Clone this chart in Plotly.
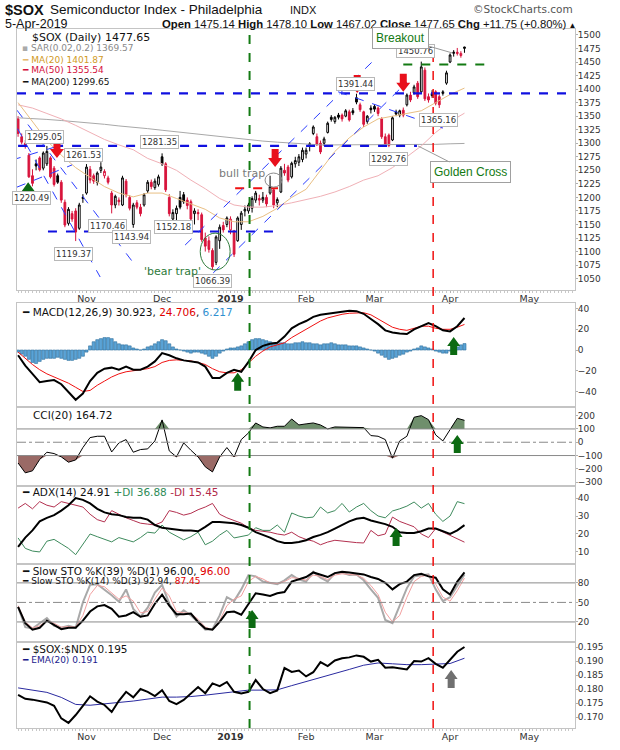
import plotly.graph_objects as go

# ---- daily candles, trading-day index 0 (5-Oct-2018) .. 124 (5-Apr-2019) ----
opens = [1345, 1312, 1300, 1278, 1240, 1262, 1273, 1254, 1262, 1273,
         1254, 1240, 1228, 1191, 1152, 1170, 1175, 1143, 1198, 1208,
         1252, 1240, 1228, 1250, 1240, 1236, 1208, 1186, 1195, 1186,
         1230, 1200, 1150, 1190, 1182, 1186, 1212, 1228, 1218, 1224,
         1275, 1262, 1200, 1160, 1170, 1200, 1205, 1195, 1192, 1170,
         1172, 1168, 1125, 1120, 1102, 1080, 1120, 1148, 1150, 1140,
         1138, 1120, 1150, 1175, 1175, 1180, 1195, 1198, 1195, 1200,
         1208, 1214, 1190, 1210, 1250, 1256, 1238, 1262, 1265, 1270,
         1280, 1299, 1318, 1312, 1300, 1300, 1320, 1348, 1340, 1352,
         1352, 1350, 1358, 1360, 1384, 1371, 1358, 1340, 1365, 1368,
         1365, 1345, 1312, 1315, 1306, 1358, 1352, 1361, 1371, 1389,
         1393, 1411, 1395, 1435, 1386, 1392, 1395, 1386, 1392, 1411,
         1450, 1466, 1468, 1462, 1475.14]
highs = [1350, 1318, 1306, 1282, 1252, 1270, 1276, 1285, 1295.05, 1276,
         1258, 1244, 1232, 1196, 1182, 1175, 1180, 1190, 1206, 1261.53,
         1258, 1244, 1248, 1265, 1252, 1240, 1212, 1205, 1200, 1240,
         1234, 1204, 1190, 1195, 1188, 1208, 1232, 1233, 1235, 1242,
         1281.35, 1265, 1206, 1178, 1185, 1212, 1210, 1200, 1196, 1180,
         1178, 1172, 1135, 1128, 1106, 1130, 1150, 1155, 1165, 1165,
         1140, 1165, 1175, 1185, 1190, 1202, 1212, 1205, 1210, 1205,
         1240, 1218, 1200, 1258, 1262, 1260, 1266, 1275, 1280, 1292,
         1292, 1302, 1333, 1318, 1305, 1312, 1340, 1352, 1350, 1356,
         1355, 1363, 1362, 1365, 1391.44, 1375, 1360, 1352, 1370, 1372,
         1368, 1348, 1318, 1318, 1350, 1362, 1362, 1366, 1392, 1395,
         1408, 1415, 1450.76, 1440, 1392, 1398, 1398, 1390, 1398, 1434,
         1466, 1472, 1476, 1470, 1478.10]
lows = [1312, 1298, 1290, 1236, 1220.49, 1250, 1248, 1250, 1258, 1235,
        1220, 1225, 1190, 1145, 1148, 1155, 1119.37, 1140, 1190, 1205,
        1226, 1225, 1222, 1245, 1235, 1224, 1170.46, 1180, 1185, 1184,
        1200, 1176, 1143.94, 1178, 1165, 1183, 1208, 1215, 1214, 1220,
        1258, 1210, 1165, 1152.18, 1158, 1178, 1188, 1178, 1155, 1150,
        1158, 1118, 1100, 1098, 1066.39, 1075, 1105, 1135, 1145, 1132,
        1090, 1118, 1140, 1165, 1170, 1172, 1190, 1185, 1190, 1182,
        1205, 1180, 1182, 1208, 1240, 1228, 1235, 1255, 1258, 1265,
        1272, 1285, 1315, 1295, 1280, 1295, 1318, 1340, 1336, 1344,
        1340, 1348, 1340, 1352, 1372, 1358, 1330, 1336, 1355, 1358,
        1350, 1308, 1295, 1292.76, 1304, 1350, 1348, 1348, 1368, 1376,
        1390, 1382, 1392, 1378, 1375, 1384, 1370, 1365.16, 1388, 1408,
        1448, 1460, 1462, 1458, 1467.02]
closes = [1318, 1302, 1295, 1238, 1226, 1258, 1251, 1282, 1285, 1238,
          1224, 1228, 1195, 1149, 1178, 1160, 1136, 1186, 1200, 1256,
          1232, 1230, 1245, 1256, 1248, 1228, 1186, 1202, 1192, 1236,
          1205, 1180, 1186, 1182, 1170, 1205, 1228, 1220, 1230, 1238,
          1262, 1214, 1170, 1172, 1180, 1182, 1192, 1185, 1160, 1175,
          1170, 1122, 1110, 1104, 1072, 1127, 1145, 1140, 1162, 1160,
          1095, 1162, 1171, 1178, 1186, 1198, 1208, 1195, 1200, 1188,
          1220, 1186, 1196, 1254, 1245, 1232, 1263, 1268, 1275, 1287,
          1287, 1296, 1330, 1298, 1284, 1308, 1337, 1344, 1348, 1348,
          1345, 1360, 1343, 1356, 1376, 1362, 1335, 1350, 1362, 1363,
          1355, 1312, 1298, 1296, 1347, 1354, 1360, 1352, 1389, 1380,
          1404, 1386, 1441, 1382, 1380, 1388, 1374, 1371, 1395, 1430,
          1463, 1468, 1466, 1465.90, 1477.65]

# moving averages, read every 4th session
ma20 = [1375, 1340, 1305, 1278, 1255, 1237, 1220, 1208, 1201, 1208, 1208, 1198,
        1188, 1178, 1162, 1155, 1155, 1165, 1180, 1200, 1215, 1250, 1285, 1310,
        1330, 1345, 1350, 1355, 1360, 1375, 1390, 1401.87]
ma50 = [1371, 1365, 1355, 1345, 1333, 1320, 1307, 1297, 1288, 1272, 1262, 1250,
        1232, 1216, 1198, 1186, 1182, 1182, 1185, 1190, 1196, 1202, 1210, 1220,
        1232, 1240, 1255, 1275, 1295, 1320, 1340, 1355.54]
ma200 = [1347, 1346, 1344, 1342, 1340, 1338, 1335, 1332, 1330, 1327, 1324, 1321,
         1318, 1315, 1312, 1309, 1306, 1304, 1302, 1300, 1298, 1297, 1297, 1297,
         1297, 1297, 1297, 1297, 1298, 1298, 1299, 1299.65]

# indicators, read every 2nd session
macd = [-5, -15, -23, -31, -30, -29, -33, -40, -48, -42, -30, -22, -18, -17, -19, -16,
        -19, -19, -16, -11, -3, -5, -8, -10, -11, -12, -16, -27, -27, -22, -19, -21,
        -11.5, 0, 4, 6, 7, 13, 21, 25, 28, 32, 34, 35, 36, 37, 38, 37.5,
        35, 30, 25, 19, 17, 16, 15.5, 20, 23, 26, 23, 19, 18, 23, 30.92]
signal = [-2, -8, -14, -19, -23, -26, -29, -32, -36, -40, -39, -34, -30, -26, -23, -21,
          -20, -19, -18, -16, -12, -10, -9.5, -10, -10.5, -12, -14, -18, -21, -22, -22, -19,
          -12, -6, -1, 3, 5, 7, 12, 16, 20, 24, 28, 31, 33, 34.5, 35.5, 36,
          36, 34, 30, 26, 22, 20, 19, 21, 23, 23, 21, 20, 20, 22, 24.71]
cci = [-156, -230, -215, -130, -75, -85, -110, -150, -133, -40, 35, 45, 45, -73, -5, 20,
       -75, -55, -50, 10, 168, -65, -110, -5, -60, -110, -185, -223, -110, -40, -110, 20,
       70, 145, 115, 108, 120, 120, 175, 130, 138, 145, 130, 100, 115, 115, 112, 115,
       110, 50, 45, 20, -120, 10, 45, 188, 200, 170, 55, 10, 100, 180, 164.72]
adx = [12.8, 18, 22, 27, 29, 30.5, 33, 36, 40, 39, 37, 34, 32, 31, 30.5, 29.5,
       29, 29, 28, 25, 23.5, 23, 22.5, 22, 22, 21.5, 24, 26.7, 26.7, 26.5, 26, 25,
       23.5, 21, 19.5, 18, 16, 15, 15, 15.5, 16.5, 18.3, 19.5, 21, 23, 25, 27, 28.5,
       29, 27.5, 26.5, 25.5, 24, 21, 20.5, 20.5, 21.5, 23, 23, 21.5, 20, 22, 24.91]
plus_di = [17.8, 12, 10.5, 10, 16, 17, 14.5, 12, 8.5, 14, 20, 18.5, 17, 15.6, 18, 17,
           15.6, 18, 21, 20.5, 25, 21, 19, 16.7, 18.5, 21, 14, 16, 19.4, 22, 17.8, 18.5,
           19.4, 23.5, 22, 22, 25, 21, 31.7, 30, 29, 29.4, 35, 31.7, 33, 37, 32.2, 35,
           37, 33, 30, 29, 32.8, 34, 35.5, 37.8, 34.4, 37, 31, 27, 30, 38, 36.88]
minus_di = [34.4, 37, 34, 38, 36, 35, 38, 37, 36, 35, 31, 28, 26.7, 33, 31, 29,
            27.5, 26, 25.5, 25, 26.7, 33, 32, 30.5, 31.5, 33.5, 35, 37, 31, 29, 27.5, 26,
            23.5, 22, 21.5, 21, 20, 19.4, 21, 18.5, 17, 16, 14, 15.5, 16.5, 16, 15.5, 15.2,
            15, 22, 19, 20, 29.4, 27, 25.5, 24, 20, 18, 23, 21, 19, 17, 15.45]
sto_k39 = [43, 18, 8, 11, 22, 15, 9, 11, 11, 22, 36, 44, 46, 40, 28, 30,
           35, 28, 30, 48, 62, 45, 32, 32, 33, 20, 10, 8, 20, 35, 36, 31,
           48, 64, 62, 60, 64, 66, 82, 86, 89, 96, 92, 89, 95, 97, 96, 95,
           93, 89, 86, 80, 70, 78, 82, 92, 94, 90, 88, 70, 62, 82, 96]
sto_k14 = [43, 12, 10, 18, 26, 14, 11, 14, 11, 50, 77, 78, 70, 61, 51, 70,
           40, 28, 42, 65, 77, 48, 28, 38, 30, 20, 8, 9, 30, 58, 52, 70,
           92, 90, 82, 80, 78, 84, 92, 85, 82, 97, 88, 82, 95, 96, 92, 93,
           84, 70, 57, 23, 18, 45, 72, 90, 92, 93, 70, 52, 58, 76, 92.94]
sto_d3 = [45, 20, 11, 14, 22, 18, 12, 13, 12, 30, 62, 76, 74, 65, 55, 60,
          52, 34, 36, 55, 72, 60, 36, 34, 33, 24, 12, 8, 22, 45, 55, 60,
          82, 90, 86, 80, 79, 82, 88, 87, 84, 92, 90, 85, 92, 94, 93, 92,
          87, 76, 62, 35, 20, 30, 58, 82, 90, 92, 78, 58, 52, 68, 87.45]
ratio = [0.1779, 0.1765, 0.1762, 0.1758, 0.1752, 0.1740, 0.1695, 0.1679, 0.1707, 0.1740,
         0.1774, 0.1755, 0.1743, 0.1718, 0.1758, 0.1790, 0.1770, 0.1800, 0.1790, 0.1775,
         0.1796, 0.1757, 0.1746, 0.1761, 0.1785, 0.1807, 0.1785, 0.1820, 0.1810, 0.1825,
         0.1790, 0.1784, 0.1790, 0.1832, 0.1800, 0.1785, 0.1795, 0.1875, 0.1861, 0.1866,
         0.1845, 0.1860, 0.1896, 0.1882, 0.1902, 0.1910, 0.1913, 0.1920, 0.1915, 0.1898,
         0.1904, 0.1876, 0.1878, 0.1875, 0.1870, 0.1900, 0.1898, 0.1910, 0.1890, 0.1876,
         0.1904, 0.1933, 0.1950]
ratio_ema = [0.1804, 0.1795, 0.1788, 0.1770, 0.1745, 0.1742, 0.1746, 0.1752, 0.1757, 0.1765,
             0.1771, 0.1771, 0.1773, 0.1778, 0.1784, 0.1790, 0.1796, 0.1796, 0.1797, 0.1812,
             0.1826, 0.1840, 0.1855, 0.1870, 0.1885, 0.1893, 0.1890, 0.1887, 0.1887, 0.1889,
             0.1891, 0.1910]
# MACD histogram, every session
hist = [-2, -4, -6, -9, -12, -13, -11, -9, -8, -8,
        -8, -7, -8, -9, -10, -10, -9, -8, -6, -2,
        4, 8, 10, 11, 12, 12, 11, 8, 6, 5,
        5, 4, 2, 1, 0, 1, 3, 4, 6, 8,
        10, 9, 6, 3, 1, 0, -1, -2, -3, -2,
        -2, -3, -4, -6, -8, -6, -3, -1, 1, 2,
        2, 3, 4, 6, 8, 10, 11, 11, 10, 9,
        8, 7, 6, 7, 7, 6, 6, 7, 7, 8,
        7, 7, 6, 6, 5, 6, 6, 7, 6, 5,
        5, 5, 4, 4, 4, 3, 2, 1, 0, -1,
        -3, -5, -7, -9, -8, -7, -5, -4, -2, -1,
        1, 2, 4, 3, 2, 1, -1, -2, -3, -3,
        -1, 1, 3, 5, 6.217]

month_pos = [19, 40, 59, 80, 99, 120, 142]
month_txt = ["Nov", "Dec", "<b>2019</b>", "Feb", "Mar", "Apr", "May"]

n = len(closes)
days = list(range(n))
days2 = list(range(0, n, 2))
days4 = list(range(0, n, 4))

RED = "#d8143c"
X_RANGE = [-0.3, 154.7]
BORDER = "#c4c4c4"

fig = go.Figure()

# ---- price panel ----
fig.add_trace(go.Scatter(x=days4, y=ma200, mode="lines", line=dict(color="#a8a8a8", width=1)))
fig.add_trace(go.Scatter(x=days4, y=ma50, mode="lines", line=dict(color="#f0b0b6", width=1)))
fig.add_trace(go.Scatter(x=days4, y=ma20, mode="lines", line=dict(color="#e9bf84", width=1)))

prev = [closes[0] + 1] + closes[:-1]
up = [i for i in days if closes[i] >= prev[i]]
dn = [i for i in days if closes[i] < prev[i]]
for sel, col in ((up, "black"), (dn, RED)):
    fig.add_trace(go.Candlestick(
        x=sel, open=[opens[i] for i in sel], high=[highs[i] for i in sel],
        low=[lows[i] for i in sel], close=[closes[i] for i in sel],
        increasing=dict(line=dict(color=col, width=1), fillcolor="white"),
        decreasing=dict(line=dict(color=col, width=1), fillcolor=col),
        whiskerwidth=0, hoverinfo="skip"))

# ---- MACD ----
fig.add_trace(go.Bar(x=days, y=hist, width=0.85, xaxis="x2", yaxis="y2",
                     marker=dict(color="#5aa3d6", line=dict(color="#2d6e9c", width=0.6))))
fig.add_trace(go.Scatter(x=days2, y=signal, mode="lines", xaxis="x2", yaxis="y2",
                         line=dict(color="#f01010", width=1)))
fig.add_trace(go.Scatter(x=days2, y=macd, mode="lines", xaxis="x2", yaxis="y2",
                         line=dict(color="black", width=2)))

# ---- CCI ----
cci_hi = [max(v, 100) for v in cci]
cci_lo = [min(v, -100) for v in cci]
fig.add_trace(go.Scatter(x=days2, y=[100] * len(days2), mode="lines", xaxis="x3", yaxis="y3",
                         line=dict(width=0)))
fig.add_trace(go.Scatter(x=days2, y=cci_hi, mode="lines", xaxis="x3", yaxis="y3", fill="tonexty",
                         fillcolor="#6f8f6c", line=dict(width=0)))
fig.add_trace(go.Scatter(x=days2, y=[-100] * len(days2), mode="lines", xaxis="x3", yaxis="y3",
                         line=dict(width=0)))
fig.add_trace(go.Scatter(x=days2, y=cci_lo, mode="lines", xaxis="x3", yaxis="y3", fill="tonexty",
                         fillcolor="#9a6a66", line=dict(width=0)))
fig.add_trace(go.Scatter(x=days2, y=cci, mode="lines", xaxis="x3", yaxis="y3",
                         line=dict(color="black", width=1)))

# ---- ADX ----
fig.add_trace(go.Scatter(x=days2, y=plus_di, mode="lines", xaxis="x4", yaxis="y4",
                         line=dict(color="#3d8a5c", width=1)))
fig.add_trace(go.Scatter(x=days2, y=minus_di, mode="lines", xaxis="x4", yaxis="y4",
                         line=dict(color="#b3304f", width=1)))
fig.add_trace(go.Scatter(x=days2, y=adx, mode="lines", xaxis="x4", yaxis="y4",
                         line=dict(color="black", width=2)))

# ---- Slow stochastics ----
fig.add_trace(go.Scatter(x=days2, y=sto_k14, mode="lines", xaxis="x5", yaxis="y5",
                         line=dict(color="#a9a9a9", width=2)))
fig.add_trace(go.Scatter(x=days2, y=sto_d3, mode="lines", xaxis="x5", yaxis="y5",
                         line=dict(color="#f2a0a0", width=1)))
fig.add_trace(go.Scatter(x=days2, y=sto_k39, mode="lines", xaxis="x5", yaxis="y5",
                         line=dict(color="black", width=2)))

# ---- $SOX:$NDX ----
fig.add_trace(go.Scatter(x=days4, y=ratio_ema, mode="lines", xaxis="x6", yaxis="y6",
                         line=dict(color="#2a2aa0", width=1)))
fig.add_trace(go.Scatter(x=days2, y=ratio, mode="lines", xaxis="x6", yaxis="y6",
                         line=dict(color="black", width=2)))


def pyy(py):
    return 1 - py / 750.0


def pxx(px):
    return (px - 17) / 558.0


panels = {
    "": (29, 290, [1029, 1511], list(range(1050, 1501, 25)), None),
    "2": (303, 407, [-55, 45.4], [-40, -20, 0, 20, 40], None),
    "3": (407, 486, [-329, 265], [-300, -200, -100, 0, 100, 200], None),
    "4": (486, 564, [3.3, 46.7], [10, 20, 30, 40], None),
    "5": (564, 642, [-10.8, 109], [20, 50, 80], None),
    "6": (642, 728, [0.16607, 0.19679], [0.170, 0.175, 0.180, 0.185, 0.190, 0.195],
          ["0.170", "0.175", "0.180", "0.185", "0.190", "0.195"]),
}
lay = {}
for k, (top, bot, yr, tv, tt) in panels.items():
    show_x = k in ("", "6")
    xa = dict(domain=[0, 1], range=X_RANGE, anchor="y" + k, showgrid=False, zeroline=False,
              showline=True, mirror=True, linecolor=BORDER, linewidth=1,
              tickmode="array", tickvals=month_pos, ticktext=month_txt,
              showticklabels=show_x, ticks="outside" if show_x else "", ticklen=2,
              ticklabelstandoff=-2, tickcolor="#b0b0b0", tickfont=dict(size=9.5, color="#333"))
    if show_x:
        xa["minor"] = dict(tickmode="linear", tick0=0, dtick=1, ticks="outside",
                           ticklen=2, tickcolor="#c8c8c8")
    if k:
        xa["matches"] = "x"
    ya = dict(domain=[pyy(bot), pyy(top)], range=yr, anchor="x" + k, side="right",
              showgrid=False, zeroline=False, showline=True, mirror=True,
              linecolor=BORDER, linewidth=1, tickmode="array", tickvals=tv,
              ticks="outside", ticklen=2, tickcolor="#b0b0b0", ticklabelstandoff=-2,
              tickfont=dict(size=9, color="#333"))
    if tt:
        ya["ticktext"] = tt
    lay["xaxis" + k] = xa
    lay["yaxis" + k] = ya
lay["xaxis"]["rangeslider"] = dict(visible=False)

shapes = []


def hline(y, x0, x1, color, width, dash, xr="x", yr="y"):
    shapes.append(dict(type="line", xref=xr, yref=yr, x0=x0, x1=x1, y0=y, y1=y,
                       line=dict(color=color, width=width, dash=dash)))


def seg(x0, y0, x1, y1, color="#2a3cff", width=1, dash="dash"):
    shapes.append(dict(type="line", xref="x", yref="y", x0=x0, y0=y0, x1=x1, y1=y1,
                       line=dict(color=color, width=width, dash=dash)))


# support / resistance
hline(1392, -0.3, 154.7, "#1010e0", 2.2, "dash")
hline(1295, 0, 110.8, "#1010e0", 2.2, "dash")
hline(1137, 8.3, 70.8, "#1010e0", 2.2, "dash")
hline(1445.5, 107, 130.5, "#137a13", 2, "dash")
hline(1217, 60.3, 72.2, "#f01010", 2, "dash")
# trend channels
seg(46.4, 1112, 99.7, 1459)
seg(54.2, 1060.5, 108, 1413)
seg(88.9, 1395, 118, 1328)
seg(-5, 1385, 22.8, 1053)
seg(-0.3, 1361, 32.5, 1075)
seg(-1.7, 1269, 12.2, 1297)
seg(-0.3, 1219, 15, 1260)
# panel reference lines
hline(100, 0, 1, "#8a8a8a", 1, "solid", "x3 domain", "y3")
hline(-100, 0, 1, "#8a8a8a", 1, "solid", "x3 domain", "y3")
hline(0, 0, 1, "#8a8a8a", 1, "dashdot", "x3 domain", "y3")
hline(80, 0, 1, "#8a8a8a", 1, "solid", "x5 domain", "y5")
hline(20, 0, 1, "#8a8a8a", 1, "solid", "x5 domain", "y5")
hline(50, 0, 1, "#8a8a8a", 1, "dashdot", "x5 domain", "y5")
# vertical markers
shapes.append(dict(type="line", xref="x", yref="paper", x0=64.3, x1=64.3, y0=pyy(728), y1=pyy(29),
                   line=dict(color="#137a13", width=2, dash="dash")))
shapes.append(dict(type="line", xref="x", yref="paper", x0=115.3, x1=115.3, y0=pyy(728), y1=pyy(57),
                   line=dict(color="#f01010", width=1.5, dash="dash")))
# trap ellipses
shapes.append(dict(type="circle", xref="x", yref="y", x0=50.6, x1=58.9, y0=1066, y1=1134,
                   line=dict(color="#2d7a3a", width=1)))
shapes.append(dict(type="circle", xref="x", yref="y", x0=68.6, x1=73.3, y0=1219, y1=1245,
                   line=dict(color="#8a8a8a", width=1)))

DOWN = "M 0 0 L -7 9 L -3.5 9 L -3.5 18 L 3.5 18 L 3.5 9 L 7 9 Z"
UP = "M 0 0 L -6.5 -9 L -3.5 -9 L -3.5 -18 L 3.5 -18 L 3.5 -9 L 6.5 -9 Z"


def arrow(i, v, path, color, k=""):
    shapes.append(dict(type="path", xref="x" + k, yref="y" + k, xsizemode="pixel",
                       ysizemode="pixel", xanchor=i, yanchor=v, path=path,
                       fillcolor=color, line=dict(width=0)))


for i, v in ((10.8, 1273), (71.4, 1256), (94.2, 1393), (107, 1395)):
    arrow(i, v, DOWN, "#e8101c")
arrow(2.8, 1228, UP, "#0c6a12")
arrow(61, -22, UP, "#0c6a12", "2")
arrow(121, 12.6, UP, "#0c6a12", "2")
arrow(122, 55, UP, "#0c6a12", "3")
arrow(105, 23.3, UP, "#0c6a12", "4")
arrow(65, 38.5, UP, "#0c6a12", "5")
arrow(120.3, 0.1868, UP, "#707070", "6")

notes = []


def note(text, px, py, size=10.5, color="#111", anchor="left", family="DejaVu Sans"):
    notes.append(dict(text=text, x=pxx(px), y=pyy(py), xref="paper", yref="paper",
                      xanchor=anchor, yanchor="middle", showarrow=False,
                      font=dict(size=size, color=color, family=family)))


def tag(text, i, p):
    notes.append(dict(text=text, x=i, y=p, xref="x", yref="y", showarrow=False,
                      bgcolor="white", bordercolor="#b8b8b8", borderwidth=1, borderpad=1,
                      font=dict(size=8.5, color="#333")))


# header
note("<b>$SOX</b>", 3, 9.5, 14.5, family="Liberation Sans")
note("Semiconductor Index - Philadelphia", 48, 9.5, 13.5, family="Liberation Sans")
note("INDX", 288, 10, 11, family="Liberation Sans")
note("©StockCharts.com", 575, 9, 10.5, "#555", anchor="right")
note("5-Apr-2019", 3, 24, 12.5, family="Liberation Sans")
note("<b>Open</b> 1475.14 <b>High</b> 1478.10 <b>Low</b> 1467.02 <b>Close</b> 1477.65 "
     "<b>Chg</b> +11.75 (+0.80%)<span style='font-size:8px'> ▲</span>",
     578, 24, 11.3, anchor="right", family="Liberation Sans")

# panel legends
note("$SOX (Daily) 1477.65", 30, 37, 11)
note("<span style='color:#aaa'>▪</span> SAR(0.02,0.2) 1369.57", 20, 48.5, 9, "#8a8a8a")
note("<span style='color:#e6b86e'>━</span> MA(20) 1401.87", 20, 59.5, 9, "#d19a1f")
note("━ MA(50) 1355.54", 20, 70.5, 9, "#d4103c")
note("━ MA(200) 1299.65", 20, 82, 9, "#111")
note("━ MACD(12,26,9) 30.923, <span style='color:#e00000'>24.706</span>, "
     "<span style='color:#2f8fd0'>6.217</span>", 20, 312, 10.5)
note("CCI(20) 164.72", 31, 415, 10.5)
note("━ ADX(14) 24.91 <span style='color:#2e8b57'>+DI 36.88</span> "
     "<span style='color:#b22a4a'>-DI 15.45</span>", 20, 492, 10.5)
note("━ Slow STO %K(39) %D(1) 96.00, <span style='color:#e00000'>96.00</span>", 20, 571, 10.5)
note("━ Slow STO %K(14) %D(3) 92.94, <span style='color:#e00000'>87.45</span>", 20, 581, 9)
note("━ $SOX:$NDX 0.195", 20, 649, 10.5)
note("━ EMA(20) 0.191", 20, 660, 9, "#1a1a8c")

# price tags
for text, i, p in (("1295.05", 7.2, 1310.7), ("1261.53", 18.3, 1278.4), ("1220.49", 3.6, 1199),
                   ("1281.35", 39.4, 1301.5), ("1170.46", 24.7, 1147.3), ("1143.94", 31.4, 1127),
                   ("1152.18", 43.1, 1145.4), ("1119.37", 15.3, 1095.6), ("1066.39", 53.9, 1045.7),
                   ("1391.44", 93.6, 1409.5), ("1450.76", 110.3, 1470.5), ("1365.16", 116.9, 1343),
                   ("1292.76", 102.8, 1271)):
    tag(text, i, p)

notes.append(dict(text="Breakout", x=120.6, y=1466.8, xref="x", yref="y", showarrow=True,
                  ax=-52, ay=-15, arrowhead=0, arrowwidth=1, arrowcolor="#9a9a9a",
                  bgcolor="white", bordercolor="#a0a0a0", borderwidth=1, borderpad=3,
                  font=dict(size=12, color="#137a13", family="Liberation Sans")))
notes.append(dict(text="Golden Cross", x=111.1, y=1295, xref="x", yref="y", showarrow=True,
                  ax=52, ay=26.5, arrowhead=0, arrowwidth=1, arrowcolor="#9a9a9a",
                  bgcolor="white", bordercolor="#a0a0a0", borderwidth=1, borderpad=3,
                  font=dict(size=12, color="#137a13", family="Liberation Sans")))
notes.append(dict(text="bull trap", x=62.2, y=1245, xref="x", yref="y", showarrow=False,
                  font=dict(size=11, color="#7a7a7a")))
notes.append(dict(text="'bear trap'", x=42.8, y=1064, xref="x", yref="y", showarrow=False,
                  font=dict(size=11, color="#2d7a3a")))

fig.update_layout(**lay)
fig.update_layout(width=620, height=750, margin=dict(l=17, r=45, t=0, b=0),
                  paper_bgcolor="white", plot_bgcolor="white", showlegend=False,
                  bargap=0.1, font=dict(family="DejaVu Sans", size=9, color="#222"),
                  shapes=shapes, annotations=notes)

# the page's default 8px body margin would shift the whole chart
fig.write_html("out.html", config={"displayModeBar": False},
               post_script="document.body.style.margin='0';")
